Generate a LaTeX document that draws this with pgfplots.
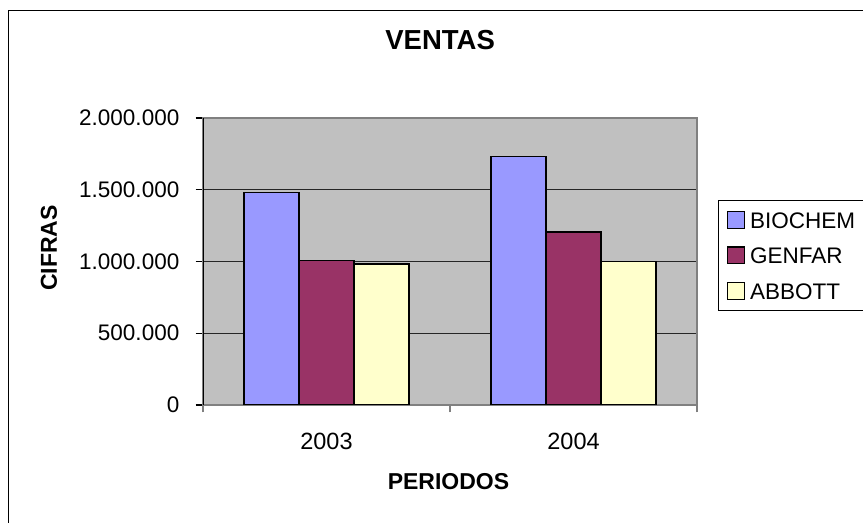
\documentclass[border=0pt]{standalone}
\usepackage{pgfplots}
\pgfplotsset{compat=1.18}
\usepackage{fontspec}
\setmainfont{Liberation Sans}
\definecolor{bio}{HTML}{9999FF}
\definecolor{gen}{HTML}{993366}
\definecolor{abb}{HTML}{FFFFCC}
\definecolor{plotbg}{HTML}{C0C0C0}
\definecolor{axgray}{HTML}{808080}
\begin{document}
\begin{tikzpicture}[x=1bp,y=1bp]
\useasboundingbox (0,0) rectangle (863,523);
\draw[line width=1.2bp] (8.5,-20) -- (8.5,512.5) -- (890,512.5);
\begin{axis}[
  at={(203bp,118bp)}, anchor=south west,
  scale only axis, width=494bp, height=287bp,
  ybar=0pt, bar width=55bp,
  xmin=-0.5, xmax=1.5, ymin=0, ymax=2000000,
  axis background/.style={fill=plotbg},
  axis line style={draw=axgray, line width=1.2bp},
  ymajorgrids, major grid style={draw=black!85, line width=0.8bp},
  tick align=outside, xtick pos=bottom, ytick pos=left,
  major tick length=7.5bp,
  xtick={-0.5,0.5,1.5}, xticklabels={},
  xtick style={draw=axgray, line width=1.2bp},
  extra x ticks={0,1}, extra x tick labels={2003,2004},
  extra x tick style={major tick length=0pt, grid=none},
  ytick={0,500000,1000000,1500000,2000000},
  yticklabels={0,500.000,1.000.000,1.500.000,2.000.000},
  scaled y ticks=false,
  ytick style={draw=black, line width=1.2bp},
  /pgf/number format/assume math mode=true,
  yticklabel style={inner sep=0pt, xshift=-16bp, font=\fontsize{22.5bp}{26bp}\selectfont},
  xticklabel style={inner sep=0pt, yshift=-28bp, font=\fontsize{23.5bp}{26bp}\selectfont},
  title={VENTAS},
  title style={at={(axis description cs:0.48,1.251)}, anchor=center, inner sep=0pt,
    font=\fontsize{27.5bp}{30bp}\selectfont\bfseries},
  xlabel={PERIODOS},
  xlabel style={at={(axis description cs:0.497,-0.267)}, anchor=center, inner sep=0pt,
    font=\fontsize{23bp}{26bp}\selectfont\bfseries},
  ylabel={CIFRAS},
  ylabel style={at={(axis description cs:-0.312,0.547)}, anchor=center, inner sep=0pt, rotate=0,
    font=\fontsize{23bp}{26bp}\selectfont\bfseries},
  legend style={at={(axis description cs:1.0425,0.714)}, anchor=north west,
    draw=black, line width=1bp, inner xsep=8.7bp, inner ysep=10.5bp,
    row sep=17.5bp, column sep=5bp,
    font=\fontsize{22.5bp}{26bp}\selectfont,
    nodes={inner sep=0pt, text height=17bp, text depth=0pt}},
  legend cell align=left,
  legend image code/.code={\draw[#1, line width=1.2bp] (0bp,-8.35bp) rectangle (16.7bp,8.35bp);},
]
\addplot[fill=bio, draw=black, line width=1.5bp] coordinates {(0,1480000) (1,1731000)};
\addlegendentry{BIOCHEM}
\addplot[fill=gen, draw=black, line width=1.5bp] coordinates {(0,1006000) (1,1204000)};
\addlegendentry{GENFAR}
\addplot[fill=abb, draw=black, line width=1.5bp] coordinates {(0,981000) (1,999000)};
\addlegendentry{ABBOTT}
\draw[black, line width=1.5bp] (rel axis cs:0,0) -- (rel axis cs:0,1);
\end{axis}
\end{tikzpicture}
\end{document}
